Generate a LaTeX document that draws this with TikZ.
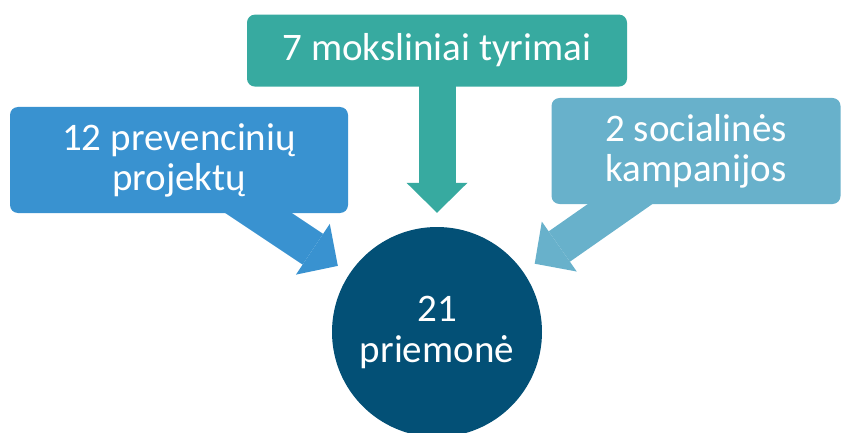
\documentclass[tikz,border=0pt]{standalone}
\usepackage{fontspec}
\setmainfont{Carlito}
\usetikzlibrary{arrows.meta, positioning, backgrounds}
\definecolor{projblue}{RGB}{57, 146, 208}
\definecolor{researchteal}{RGB}{55, 170, 160}
\definecolor{campaignblue}{RGB}{104, 177, 203}
\definecolor{totalnavy}{RGB}{3, 80, 118}
\tikzstyle{box}   = [rectangle, rounded corners=8pt, text=white, align=center,
                     inner sep=0pt, font=\fontsize{39}{40}\selectfont]
\tikzstyle{total} = [circle, minimum size=210pt, fill=totalnavy, text=white,
                     align=center, inner sep=0pt, font=\fontsize{39}{41}\selectfont]
\tikzstyle{blockarrow} = [line width=37pt, shorten >=14pt,
                          -{Triangle[length=30pt, width=61pt, line width=0pt]}]

\begin{document}
\begin{tikzpicture}[x=1pt, y=-1pt]
  \useasboundingbox (0,0) rectangle (841,433);

  \node (total)     [total] at (437,332) {21\\priemonė};
  \node (research)  [box, fill=researchteal, minimum width=380pt, minimum height=72pt,
                     above=140pt of total] {7 moksliniai tyrimai};
  \node (projects)  [box, fill=projblue, minimum width=338pt, minimum height=106pt]
                    at (179,160) {12 prevencinių\\projektų};
  \node (campaigns) [box, fill=campaignblue, minimum width=289pt, minimum height=106pt]
                    at (696,151) {2 socialinės\\kampanijos};

  % block arrows sit under the boxes
  \begin{scope}[on background layer]
    \draw [blockarrow, projblue]     (projects.center)  -- (total);
    \draw [blockarrow, researchteal] (research.center)  -- (total);
    \draw [blockarrow, campaignblue] (campaigns.center) -- (total);
  \end{scope}
\end{tikzpicture}
\end{document}
